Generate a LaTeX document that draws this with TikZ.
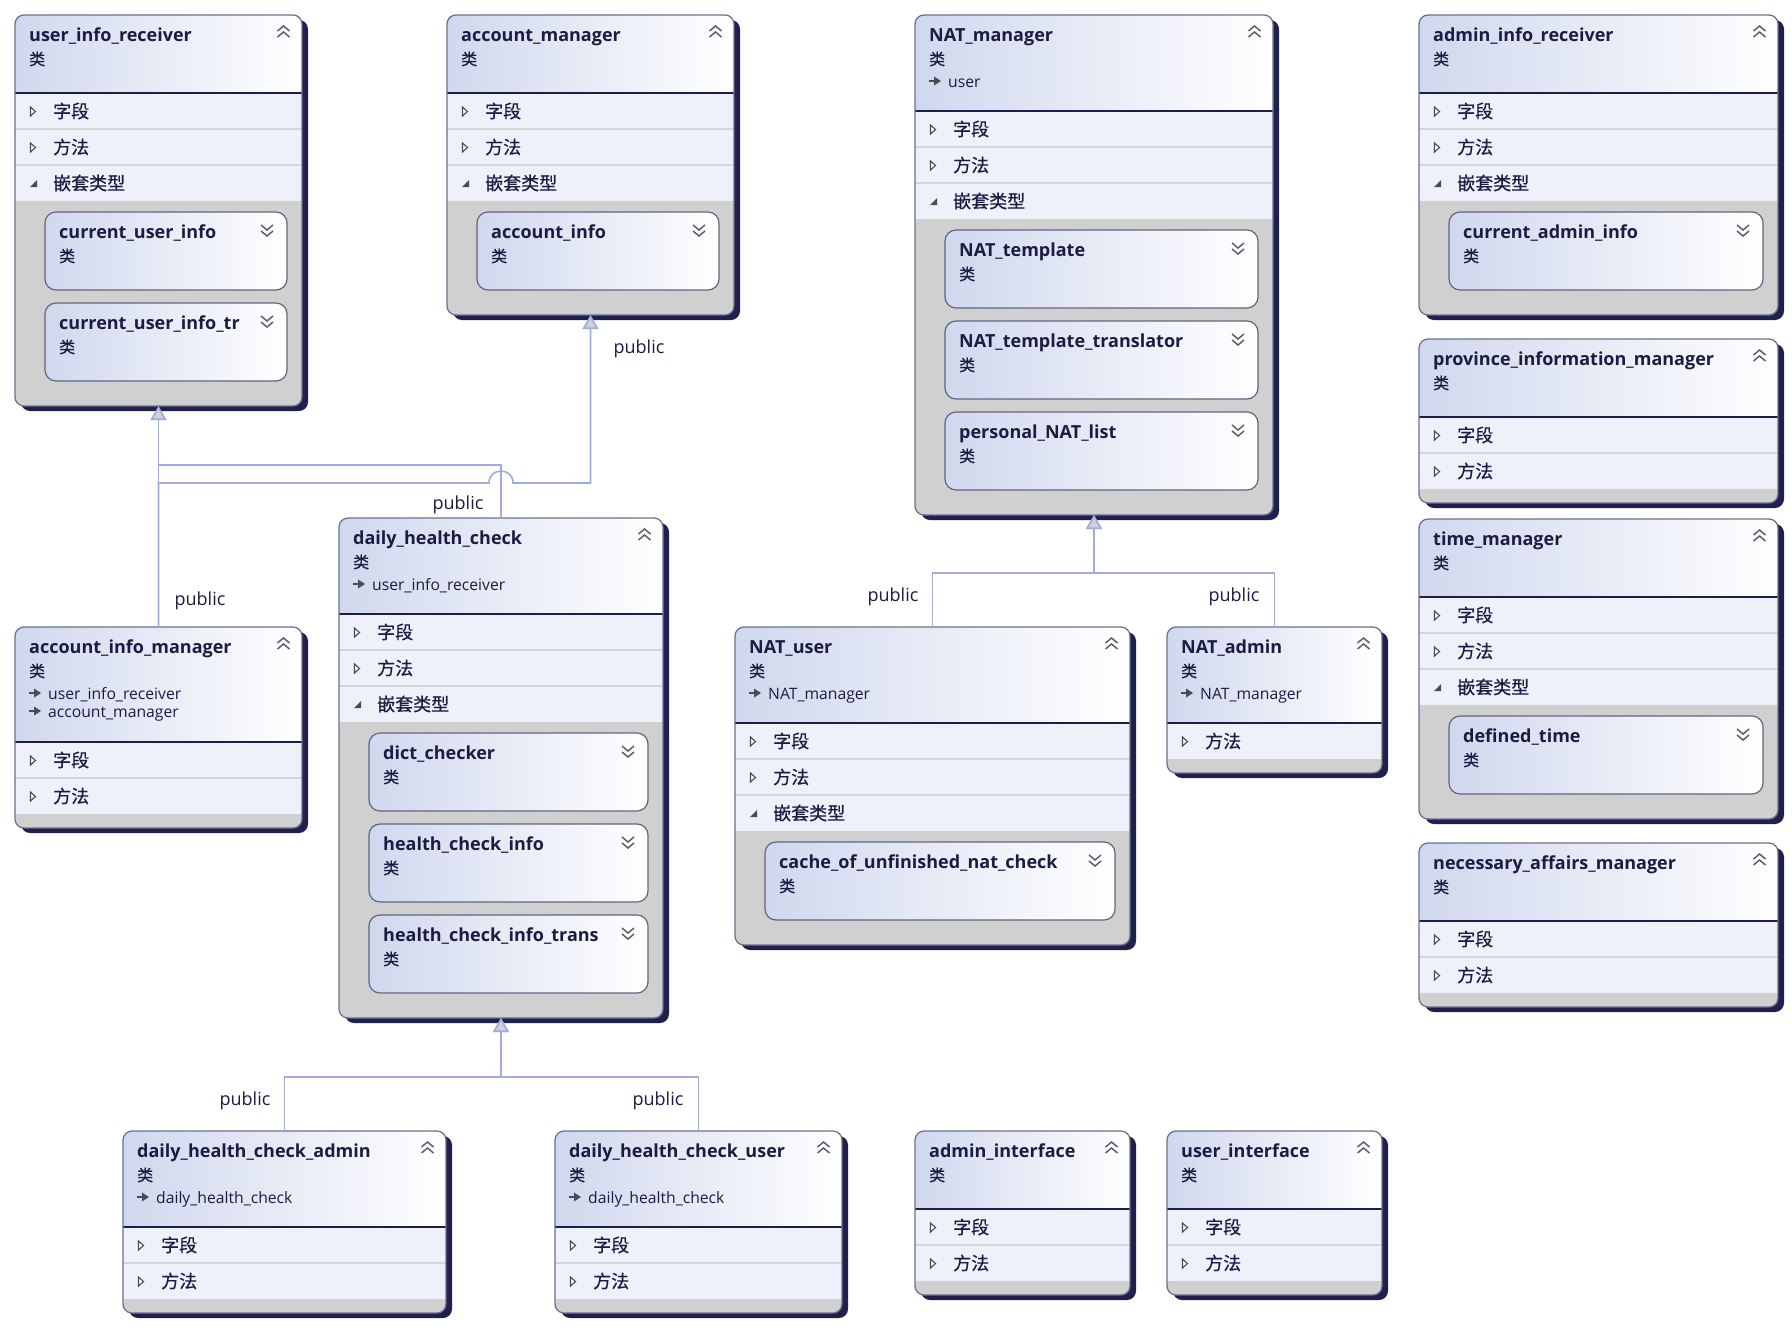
\documentclass[tikz,border=0pt]{standalone}
\usepackage{fontspec}
\setmainfont{Open Sans}
\newfontfamily\cjk{Noto Sans CJK SC}[FakeBold=0.6]
\usetikzlibrary{arrows.meta,calc}

\definecolor{textc}{RGB}{28,28,66}
\definecolor{linec}{RGB}{160,172,222}
\definecolor{arrowf}{RGB}{206,208,218}
\definecolor{shadowc}{RGB}{32,32,78}
\definecolor{framec}{RGB}{112,112,142}
\definecolor{nframec}{RGB}{100,100,130}
\definecolor{hdrL}{RGB}{208,216,238}
\definecolor{rowbg}{RGB}{238,241,250}
\definecolor{rowsepc}{RGB}{212,212,220}
\definecolor{graybg}{RGB}{208,208,208}
\definecolor{hsepc}{RGB}{30,30,70}
\definecolor{iconc}{RGB}{75,75,80}
\definecolor{chevc}{RGB}{95,95,105}

\tikzset{
  ttl/.style={font=\fontsize{18}{21}\selectfont\bfseries, text=textc, inner sep=0pt},
  kind/.style={font=\cjk\fontsize{16}{18}\selectfont, text=textc, inner sep=0pt},
  inhtxt/.style={font=\fontsize{15.7}{18}\selectfont, text=textc, inner sep=0pt},
  rowtxt/.style={font=\cjk\fontsize{18}{20}\selectfont, text=textc, inner sep=0pt},
  pub/.style={font=\fontsize{18}{20}\selectfont, text=textc, inner sep=0pt},
  frame/.style={draw=framec, line width=1.3pt, rounded corners=9pt, inner sep=0pt, outer sep=0pt, rectangle},
  nframe/.style={draw=nframec, line width=1.2pt, rounded corners=11pt},
  conn/.style={draw=linec, line width=1.6pt},
  inh/.style={conn, -{Triangle[length=14pt,width=16pt,fill=arrowf]}},
  chev/.style={draw=chevc, line width=1.5pt},
}

\newcommand\chevup[2]{%
  \draw[chev] ({#1-6},{#2-1}) -- ({#1},{#2-6}) -- ({#1+6},{#2-1})
              ({#1-6},{#2+5}) -- ({#1},{#2}) -- ({#1+6},{#2+5});}
\newcommand\chevdown[2]{%
  \draw[chev] ({#1-6},{#2-5}) -- ({#1},{#2}) -- ({#1+6},{#2-5})
              ({#1-6},{#2+1}) -- ({#1},{#2+6}) -- ({#1+6},{#2+1});}

\newcommand\clsbegin[5]{%
  \def\cid{#1}\def\cw{#4}\def\ch{#5}%
  \begin{scope}[shift={(#2,#3)}]%
  \fill[shadowc, rounded corners=9pt] (6,5) rectangle ({#4+6},{#5+5});%
  \begin{scope}%
  \clip[rounded corners=9pt] (0,0) rectangle (#4,#5);%
  \fill[graybg] (0,0) rectangle (#4,#5);%
}
\newcommand\clsend{%
  \end{scope}%
  \node[frame, anchor=north west, minimum width=\cw pt, minimum height=\ch pt] (\cid) at (0,0) {};%
  \end{scope}%
}
\newcommand\clshead[2]{%
  \def\hh{#1}%
  \shade[left color=hdrL, right color=white] (0,0) rectangle (\cw,#1);%
  \node[ttl, anchor=base west] (\cid-t) at (14,26) {#2};%
  \node[kind, anchor=base west] (\cid-k) at (14,50) {类};%
  \chevup{\cw-18.5}{17}%
}
\newcommand\clsinh[2]{%
  \pgfmathsetmacro\iy{72+18*(#1-1)}%
  \draw[iconc, line width=1.4pt] (14,\iy-6) -- (21,\iy-6);%
  \fill[iconc] (19,\iy-10.5) -- (26,\iy-6) -- (19,\iy-1.5) -- cycle;%
  \node[inhtxt, anchor=base west] (\cid-i#1) at (33,\iy) {#2};%
}
\newcommand\clsrow[3]{%
  \pgfmathsetmacro\ry{\hh+36*(#1-1)}%
  \fill[rowbg] (0,\ry) rectangle (\cw,\ry+36);%
  \ifnum#1=1 \draw[hsepc, line width=1.3pt] (0,\ry) -- (\cw,\ry);%
  \else \draw[rowsepc, line width=1.6pt] (0,\ry) -- (\cw,\ry);\fi
  \ifnum#3=0
    \draw[iconc, fill=white, line width=1.1pt] (15.5,\ry+14) -- (20.5,\ry+18.5) -- (15.5,\ry+23) -- cycle;%
  \else
    \fill[iconc] (22,\ry+15) -- (22,\ry+22) -- (15,\ry+22) -- cycle;%
  \fi
  \node[rowtxt, anchor=west] (\cid-r#1) at (38,\ry+18) {#2};%
}
\newcommand\clsnest[2]{%
  \pgfmathsetmacro\ny{\hh+119+91*(#1-1)}%
  \shade[left color=hdrL, right color=white, rounded corners=11pt] (30,\ny) rectangle (\cw-15,\ny+78);%
  \draw[nframe] (30,\ny) rectangle (\cw-15,\ny+78);%
  \node[ttl, anchor=base west] (\cid-n#1) at (44,\ny+26) {#2};%
  \node[kind, anchor=base west] (\cid-nk#1) at (44,\ny+50) {类};%
  \chevdown{\cw-35}{\ny+18}%
}

\begin{document}
\begin{tikzpicture}[x=1pt, y=-1pt]
\fill[white] (0,0) rectangle (1792,1326);
\useasboundingbox (0,0) rectangle (1792,1326);

% user_info_receiver
\clsbegin{uir}{15}{15}{287}{391}
\clshead{78}{user\_info\_receiver}
\clsrow{1}{字段}{0}\clsrow{2}{方法}{0}\clsrow{3}{嵌套类型}{1}
\clsnest{1}{current\_user\_info}\clsnest{2}{current\_user\_info\_tr}
\clsend

% account_manager
\clsbegin{am}{447}{15}{287}{300}
\clshead{78}{account\_manager}
\clsrow{1}{字段}{0}\clsrow{2}{方法}{0}\clsrow{3}{嵌套类型}{1}
\clsnest{1}{account\_info}
\clsend

% NAT_manager
\clsbegin{nm}{915}{15}{358}{500}
\clshead{96}{NAT\_manager}
\clsinh{1}{user}
\clsrow{1}{字段}{0}\clsrow{2}{方法}{0}\clsrow{3}{嵌套类型}{1}
\clsnest{1}{NAT\_template}\clsnest{2}{NAT\_template\_translator}\clsnest{3}{personal\_NAT\_list}
\clsend

% admin_info_receiver
\clsbegin{air}{1419}{15}{359}{300}
\clshead{78}{admin\_info\_receiver}
\clsrow{1}{字段}{0}\clsrow{2}{方法}{0}\clsrow{3}{嵌套类型}{1}
\clsnest{1}{current\_admin\_info}
\clsend

% province_information_manager
\clsbegin{pim}{1419}{339}{359}{164}
\clshead{78}{province\_information\_manager}
\clsrow{1}{字段}{0}\clsrow{2}{方法}{0}
\clsend

% time_manager
\clsbegin{tm}{1419}{519}{359}{300}
\clshead{78}{time\_manager}
\clsrow{1}{字段}{0}\clsrow{2}{方法}{0}\clsrow{3}{嵌套类型}{1}
\clsnest{1}{defined\_time}
\clsend

% necessary_affairs_manager
\clsbegin{nam}{1419}{843}{359}{164}
\clshead{78}{necessary\_affairs\_manager}
\clsrow{1}{字段}{0}\clsrow{2}{方法}{0}
\clsend

% account_info_manager
\clsbegin{aim}{15}{627}{287}{201}
\clshead{115}{account\_info\_manager}
\clsinh{1}{user\_info\_receiver}\clsinh{2}{account\_manager}
\clsrow{1}{字段}{0}\clsrow{2}{方法}{0}
\clsend

% daily_health_check
\clsbegin{dhc}{339}{518}{324}{500}
\clshead{96}{daily\_health\_check}
\clsinh{1}{user\_info\_receiver}
\clsrow{1}{字段}{0}\clsrow{2}{方法}{0}\clsrow{3}{嵌套类型}{1}
\clsnest{1}{dict\_checker}\clsnest{2}{health\_check\_info}\clsnest{3}{health\_check\_info\_trans}
\clsend

% NAT_user
\clsbegin{nu}{735}{627}{395}{318}
\clshead{96}{NAT\_user}
\clsinh{1}{NAT\_manager}
\clsrow{1}{字段}{0}\clsrow{2}{方法}{0}\clsrow{3}{嵌套类型}{1}
\clsnest{1}{cache\_of\_unfinished\_nat\_check}
\clsend

% NAT_admin
\clsbegin{na}{1167}{627}{215}{146}
\clshead{96}{NAT\_admin}
\clsinh{1}{NAT\_manager}
\clsrow{1}{方法}{0}
\clsend

% daily_health_check_admin
\clsbegin{dhca}{123}{1131}{323}{182}
\clshead{96}{daily\_health\_check\_admin}
\clsinh{1}{daily\_health\_check}
\clsrow{1}{字段}{0}\clsrow{2}{方法}{0}
\clsend

% daily_health_check_user
\clsbegin{dhcu}{555}{1131}{287}{182}
\clshead{96}{daily\_health\_check\_user}
\clsinh{1}{daily\_health\_check}
\clsrow{1}{字段}{0}\clsrow{2}{方法}{0}
\clsend

% admin_interface
\clsbegin{ai}{915}{1131}{215}{164}
\clshead{78}{admin\_interface}
\clsrow{1}{字段}{0}\clsrow{2}{方法}{0}
\clsend

% user_interface
\clsbegin{ui}{1167}{1131}{215}{164}
\clshead{78}{user\_interface}
\clsrow{1}{字段}{0}\clsrow{2}{方法}{0}
\clsend

% ---------- connectors ----------
\path ([yshift=-77pt]uir.south) coordinate (jA);
\path (dhc.north |- jA) coordinate (jB);
\draw[conn] (dhc.north) |- ([yshift=-59pt]uir.south);
\draw[inh] (aim.north) -- (jA) -- ([xshift=-12pt]jB)
  .. controls ([xshift=-12pt,yshift=16pt]jB) and ([xshift=12pt,yshift=16pt]jB) .. ([xshift=12pt]jB)
  -- (am.south |- jA) -- (am.south);
\draw[inh] (aim.north) -- (uir.south);

\draw[inh] (nu.north) |- ([yshift=-58pt]nm.south) -- (nm.south);
\draw[inh] (na.north) |- ([yshift=-58pt]nm.south) -- (nm.south);

\draw[inh] (dhca.north) |- ([yshift=-59pt]dhc.south) -- (dhc.south);
\draw[inh] (dhcu.north) |- ([yshift=-59pt]dhc.south) -- (dhc.south);

% labels
\node[pub] (l1) at (200,601) {public};
\node[pub] (l2) at (458,505) {public};
\node[pub] (l3) at (639,349) {public};
\node[pub] (l4) at (893,597) {public};
\node[pub] (l5) at (1234,597) {public};
\node[pub] (l6) at (245,1101) {public};
\node[pub] (l7) at (658,1101) {public};
\end{tikzpicture}
\end{document}
